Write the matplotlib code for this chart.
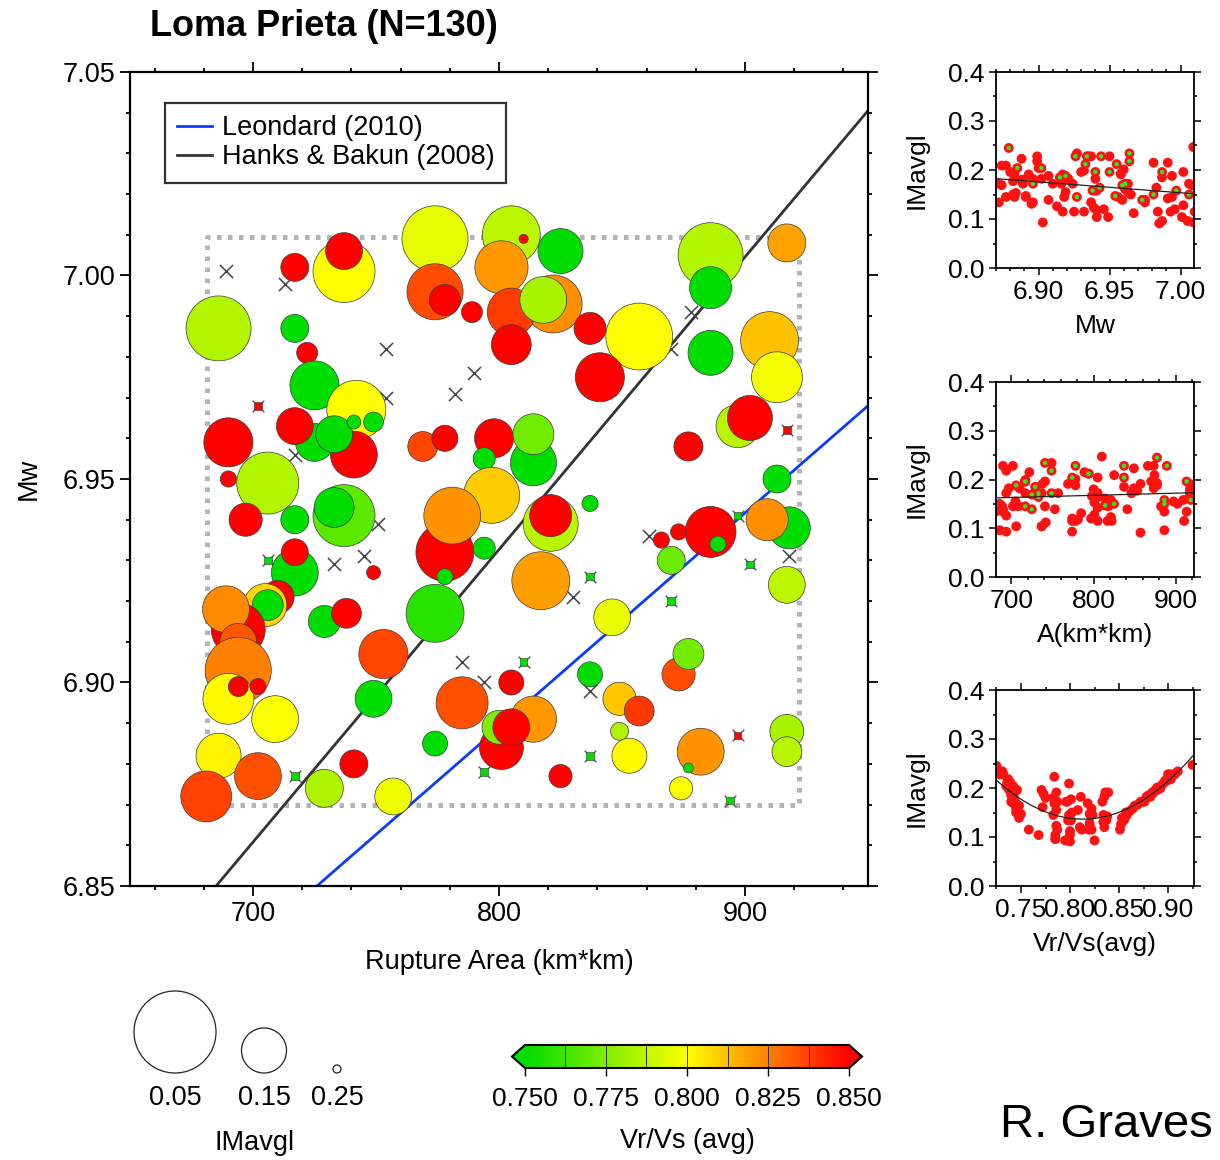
import numpy as np
import matplotlib
matplotlib.use("Agg")
import matplotlib.pyplot as plt
from matplotlib.colors import LinearSegmentedColormap, Normalize
from matplotlib.ticker import MultipleLocator
from matplotlib.cm import ScalarMappable

plt.rcParams['font.family'] = ['Liberation Sans', 'DejaVu Sans']

# one entry per rupture realisation (circles), in drawing order
area = [737, 737, 717, 686, 717, 722, 725, 742, 741, 725, 717, 733, 741, 749, 690, 690, 706,
        774, 805, 810, 825, 801, 774, 778, 789, 822, 805, 818, 805, 837, 857, 841,
        769, 778, 798, 814, 814, 794, 797, 837,
        886, 886, 917, 886, 910, 913, 897, 902, 877, 913,
        697, 717, 737, 733, 717, 717, 749, 710, 705, 706, 694, 689, 694, 694, 690, 694, 702,
        709, 686, 702, 681, 729, 741, 757, 753, 749, 729, 738,
        774, 778, 781, 794, 778, 821, 821, 817, 846, 805, 785, 814, 801, 800, 805,
        774, 825, 837, 849, 857, 849, 853,
        886, 889, 873, 866, 870, 918, 909, 917, 873, 877, 917, 917, 882, 877, 874]
mw = [7.001, 7.006, 7.002, 6.987, 6.987, 6.981, 6.973, 6.967, 6.956, 6.959, 6.963, 6.961, 6.964,
      6.964, 6.959, 6.950, 6.949,
      7.009, 7.010, 7.009, 7.006, 7.002, 6.996, 6.994, 6.991, 6.993, 6.991, 6.994, 6.983, 6.987,
      6.985, 6.975,
      6.958, 6.960, 6.960, 6.954, 6.961, 6.955, 6.946, 6.944,
      7.005, 6.997, 7.008, 6.981, 6.984, 6.975, 6.963, 6.965, 6.958, 6.950,
      6.940, 6.940, 6.941, 6.943, 6.927, 6.932, 6.927, 6.921, 6.919, 6.919, 6.913, 6.918, 6.910,
      6.903, 6.896, 6.899, 6.899,
      6.891, 6.882, 6.877, 6.872, 6.874, 6.880, 6.872, 6.907, 6.896, 6.915, 6.917,
      6.917, 6.932, 6.941, 6.933, 6.926, 6.939, 6.941, 6.925, 6.916, 6.900, 6.895, 6.891, 6.884,
      6.889, 6.889,
      6.885, 6.877, 6.902, 6.896, 6.893, 6.888, 6.882,
      6.937, 6.934, 6.937, 6.935, 6.930, 6.938, 6.940, 6.924, 6.902, 6.907, 6.888, 6.883, 6.883,
      6.879, 6.874]
vr = [0.800, 0.874, 0.889, 0.785, 0.746, 0.899, 0.748, 0.800, 0.858, 0.742, 0.872, 0.740, 0.731,
      0.737, 0.856, 0.905, 0.785,
      0.795, 0.787, 0.925, 0.745, 0.820, 0.835, 0.884, 0.897, 0.822, 0.838, 0.783, 0.866, 0.880,
      0.800, 0.853,
      0.836, 0.889, 0.869, 0.750, 0.772, 0.739, 0.810, 0.732,
      0.785, 0.745, 0.818, 0.747, 0.812, 0.798, 0.786, 0.857, 0.886, 0.741,
      0.878, 0.738, 0.768, 0.748, 0.749, 0.892, 0.910, 0.882, 0.808, 0.743, 0.852, 0.823, 0.833,
      0.825, 0.801, 0.903, 0.902,
      0.799, 0.802, 0.834, 0.837, 0.784, 0.887, 0.797, 0.836, 0.744, 0.740, 0.884,
      0.758, 0.851, 0.821, 0.736, 0.728, 0.786, 0.864, 0.819, 0.796, 0.893, 0.834, 0.820, 0.861,
      0.775, 0.876,
      0.742, 0.895, 0.735, 0.811, 0.839, 0.784, 0.801,
      0.855, 0.730, 0.907, 0.900, 0.771, 0.746, 0.822, 0.787, 0.835, 0.773, 0.783, 0.786, 0.821,
      0.725, 0.799]
imavg = [0.104, 0.172, 0.196, 0.096, 0.196, 0.215, 0.139, 0.112, 0.145, 0.169, 0.172, 0.172, 0.234,
         0.218, 0.139, 0.228, 0.104,
         0.093, 0.115, 0.247, 0.150, 0.128, 0.120, 0.188, 0.215, 0.115, 0.142, 0.145, 0.164, 0.185,
         0.091, 0.139,
         0.191, 0.201, 0.166, 0.147, 0.161, 0.212, 0.120, 0.228,
         0.096, 0.158, 0.169, 0.150, 0.115, 0.134, 0.155, 0.150, 0.193, 0.196,
         0.182, 0.196, 0.104, 0.164, 0.145, 0.199, 0.234, 0.182, 0.155, 0.188, 0.126, 0.145, 0.172,
         0.093, 0.134, 0.218, 0.228,
         0.145, 0.150, 0.145, 0.134, 0.169, 0.196, 0.172, 0.139, 0.172, 0.185, 0.191,
         0.115, 0.115, 0.118, 0.212, 0.228, 0.123, 0.158, 0.115, 0.172, 0.204, 0.131, 0.147, 0.153,
         0.180, 0.172,
         0.204, 0.209, 0.204, 0.182, 0.191, 0.223, 0.177,
         0.134, 0.228, 0.228, 0.228, 0.196, 0.158, 0.158, 0.172, 0.182, 0.188, 0.180, 0.191, 0.145,
         0.245, 0.209]

# realisations shown as crosses / small squares
cross_area = [689, 713, 754, 790, 782, 754, 717, 751, 733, 745, 785, 794, 830, 837, 861, 918, 878, 870]
cross_mw = [7.001, 6.998, 6.982, 6.976, 6.971, 6.970, 6.956, 6.939, 6.929, 6.931, 6.905, 6.900,
            6.921, 6.898, 6.936, 6.931, 6.991, 6.982]
sq_area = [706, 717, 810, 837, 794, 837, 902, 870, 894, 897, 702, 917, 897]
sq_mw = [6.930, 6.877, 6.905, 6.926, 6.878, 6.882, 6.929, 6.920, 6.871, 6.941, 6.968, 6.962, 6.887]
sq_vr = [0.74, 0.74, 0.74, 0.74, 0.74, 0.74, 0.74, 0.74, 0.74, 0.74, 0.86, 0.86, 0.86]

# parameter ranges (dotted box)
area_range = [681.5, 922.0]
mw_range = [6.870, 7.0095]
vr_range = [0.7245, 0.9265]

# scaling relations
hb_area = [685, 950]
hb_mw = [6.85, 7.0405]
leo_area = [726, 950]
leo_mw = [6.85, 6.968]

legend_im = [0.05, 0.15, 0.25]
cbar_ticks = [0.750, 0.775, 0.800, 0.825, 0.850]

cmap = LinearSegmentedColormap.from_list('gyr', ['#00dd00', '#ffff00', '#ff0000'])
norm = Normalize(0.75, 0.85)


def im_to_px(v):
    return np.clip(100.5 - 370 * np.asarray(v, dtype=float), 3, None)


def px_to_s(d):
    return (np.asarray(d) * 0.72) ** 2


fig = plt.figure(figsize=(12.2, 11.6), dpi=100)
W, H = 1220, 1160


def fax(x0, y0, x1, y1):
    return fig.add_axes([x0 / W, 1 - y1 / H, (x1 - x0) / W, (y1 - y0) / H])


# ---------------- main panel
ax = fax(130, 72, 868, 886)
ax.set_xlim(650, 950)
ax.set_ylim(6.85, 7.05)
ax.plot(leo_area, leo_mw, color='#0a3cff', lw=2, zorder=1, label='Leondard (2010)')
ax.plot(hb_area, hb_mw, color='#333333', lw=2, zorder=1, label='Hanks & Bakun (2008)')
ax.plot([area_range[0], area_range[1], area_range[1], area_range[0], area_range[0]],
        [mw_range[0], mw_range[0], mw_range[1], mw_range[1], mw_range[0]],
        color='#b4b4b4', lw=3.6, ls=(0, (0.9, 1.3)), zorder=0.5)
ax.scatter(cross_area, cross_mw, marker='x', s=90, color='#444444', linewidths=1.1, zorder=2)
ax.scatter(sq_area, sq_mw, marker='x', s=70, color='#555555', linewidths=1.0, zorder=2)
ax.scatter(sq_area, sq_mw, marker='s', s=30, c=sq_vr, cmap=cmap, norm=norm,
           edgecolors='#333333', linewidths=0.4, zorder=2.5)
ax.scatter(area, mw, s=px_to_s(im_to_px(imavg)), c=vr, cmap=cmap, norm=norm,
           edgecolors='#3a3a3a', linewidths=0.5, zorder=3)

ax.xaxis.set_major_locator(MultipleLocator(100))
ax.xaxis.set_minor_locator(MultipleLocator(20))
ax.yaxis.set_major_locator(MultipleLocator(0.05))
ax.yaxis.set_minor_locator(MultipleLocator(0.01))
ax.yaxis.set_major_formatter(plt.FormatStrFormatter('%.2f'))
ax.tick_params(which='both', direction='out', top=True, right=True, width=1.3, labelsize=19.5)
ax.tick_params(which='major', length=7)
ax.tick_params(which='minor', length=3)
for s in ax.spines.values():
    s.set_linewidth(1.6)
ax.set_xlabel('Rupture Area (km*km)', fontsize=19.5)
ax.xaxis.set_label_coords(0.5, -0.077)
ax.set_ylabel('Mw', fontsize=19.5)
ax.yaxis.set_label_coords(-0.12, 0.5)
leg = ax.legend(loc='upper left', bbox_to_anchor=(0.047, 0.962), borderaxespad=0,
                fontsize=19.5, frameon=True, fancybox=False, handlelength=1.3,
                handletextpad=0.35, labelspacing=0.12, borderpad=0.45)
leg.get_frame().set_edgecolor('black')
leg.get_frame().set_linewidth(1.6)

fig.text(150 / W, 1 - 27 / H, 'Loma Prieta (N=130)', fontsize=26, fontweight='bold',
         ha='left', va='center')

# ---------------- side panels
side = [(72, 268, np.asarray(mw), mw_range, 'Mw', 0.05, 0.01, '%.2f', True),
        (382, 577, np.asarray(area), area_range, 'A(km*km)', 100, 20, '%d', True),
        (690, 886, np.asarray(vr), vr_range, 'Vr/Vs(avg)', 0.05, 0.025, '%.2f', False)]
im_arr = np.asarray(imavg)
vr_arr = np.asarray(vr)
for y0, y1, xv, xr, lab, maj, mnr, fmt, green in side:
    sa = fax(996, y0, 1194, y1)
    sa.scatter(xv, im_arr, s=50, color='#ff1111', edgecolors='none', zorder=2)
    if green:
        g = vr_arr <= 0.75
        sa.scatter(xv[g], im_arr[g], s=10, color='#22ee22', edgecolors='none', zorder=3)
    deg = 1 if green else 2
    coef = np.polyfit(xv, im_arr, deg)
    xx = np.linspace(xr[0], xr[1], 100)
    sa.plot(xx, np.polyval(coef, xx), color='#222222', lw=0.9, zorder=4)
    sa.set_xlim(xr)
    sa.set_ylim(0, 0.4)
    sa.xaxis.set_major_locator(MultipleLocator(maj))
    sa.xaxis.set_minor_locator(MultipleLocator(mnr))
    sa.xaxis.set_major_formatter(plt.FormatStrFormatter(fmt))
    sa.yaxis.set_major_locator(MultipleLocator(0.1))
    sa.yaxis.set_minor_locator(MultipleLocator(0.05))
    sa.yaxis.set_major_formatter(plt.FormatStrFormatter('%.1f'))
    sa.tick_params(which='both', direction='out', top=True, right=True, width=1.1, labelsize=19)
    sa.tick_params(which='major', length=5)
    sa.tick_params(which='minor', length=2.5)
    for s in sa.spines.values():
        s.set_linewidth(1.3)
    sa.set_xlabel(lab, fontsize=19)
    sa.xaxis.set_label_coords(0.5, -0.235)
    sa.set_ylabel('IMavgl', fontsize=19)
    sa.yaxis.set_label_coords(-0.34, 0.5)

# ---------------- colour bar
cax = fax(512, 1045, 862, 1068)
cb = fig.colorbar(ScalarMappable(norm=norm, cmap=cmap), cax=cax, orientation='horizontal',
                  extend='both', extendfrac=0.04, ticks=cbar_ticks)
cb.outline.set_linewidth(1.5)
cb.ax.set_xticklabels(['%.3f' % t for t in cbar_ticks])
cb.ax.tick_params(labelsize=19, length=6, width=1.0, direction='out', pad=8)
for v in np.linspace(0.75, 0.85, 9)[1:-1]:
    cb.ax.axvline(v, color='#333333', lw=0.7)
cb.ax.set_xlabel('Vr/Vs (avg)', fontsize=19.5, labelpad=12)

# ---------------- size legend
lax = fig.add_axes([0, 0, 1, 1], facecolor='none')
lax.set_xlim(0, W)
lax.set_ylim(H, 0)
lax.axis('off')
leg_x = [175, 264, 337]
d_leg = im_to_px(legend_im)
lax.scatter(leg_x, 1073 - d_leg / 2, s=px_to_s(d_leg), facecolors='white',
            edgecolors='#222222', linewidths=0.9)
for x, v in zip(leg_x, legend_im):
    lax.text(x, 1098, '%.2f' % v, fontsize=19.5, ha='center', va='center')
lax.text(255, 1143, 'IMavgl', fontsize=19.5, ha='center', va='center')

fig.text(1000 / W, 1 - 1125 / H, 'R. Graves', fontsize=34, ha='left', va='center')

fig.savefig('out.png', dpi=100)
